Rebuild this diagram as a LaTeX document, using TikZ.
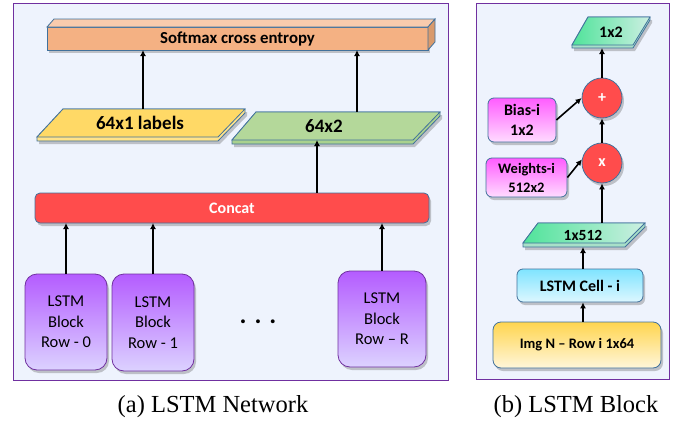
\documentclass[tikz,border=0pt]{standalone}
\usepackage{fontspec}
\setmainfont{Carlito}
\newfontfamily\capfont{Liberation Serif}
\usetikzlibrary{shadows,arrows.meta}
\definecolor{panelbg}{HTML}{EEF3FD}
\definecolor{framec}{HTML}{7030A0}
\definecolor{edgec}{HTML}{41719C}
\definecolor{smfront}{HTML}{F4B183}
\definecolor{smtop}{HTML}{F8CBAD}
\definecolor{smside}{HTML}{D99A6C}
\definecolor{yel}{HTML}{FFD966}
\definecolor{yelstrip}{HTML}{FFE38A}
\definecolor{grn}{HTML}{B4D89A}
\definecolor{grnstrip}{HTML}{A9D18E}
\definecolor{concatc}{HTML}{FF4C4C}
\definecolor{purtop}{HTML}{B45CFF}
\definecolor{purbot}{HTML}{DCD2FF}
\definecolor{magtop}{HTML}{FF5CFF}
\definecolor{magbot}{HTML}{FFDCFF}
\definecolor{cyantop}{HTML}{7FE4FF}
\definecolor{cyanbot}{HTML}{DDF7FF}
\definecolor{imgtop}{HTML}{FFD54F}
\definecolor{imgbot}{HTML}{FFF6DA}
\definecolor{mint}{HTML}{4FE39A}
\definecolor{mintlight}{HTML}{CDEFE2}
\definecolor{mintstrip}{HTML}{A8E0C8}
\tikzset{
  shade/.style={drop shadow={shadow xshift=2pt,shadow yshift=-3pt,opacity=.3,fill=black!70}},
  arr/.style={-{Latex[length=6pt,width=6pt]},line width=1.6pt,black},
  panel/.style={draw=framec,fill=panelbg,line width=1pt},
  blockbox/.style={draw=framec,line width=0.8pt,rounded corners=12pt,top color=purtop,bottom color=purbot,
    align=center,font=\fontsize{16.5}{20.5}\selectfont,shade},
  roundbox/.style={draw=edgec,line width=0.8pt,rounded corners=6pt,align=center,shade},
  opcircle/.style={circle,draw=edgec,line width=0.8pt,fill=concatc,minimum size=40pt,inner sep=0pt,
    text=white,font=\fontsize{16}{18}\selectfont\bfseries,shade},
  ghost/.style={inner sep=0pt,outer sep=0pt},
}
\begin{document}
\begin{tikzpicture}[x=1pt,y=-1pt]
\useasboundingbox[fill=white] (0,0) rectangle (683,423);
% panels
\draw[panel] (13,3) rectangle (448,380);
\draw[panel] (476,3) rectangle (669,379);

% ---------- left panel ----------
% softmax 3D bar
\node[ghost,draw=edgec,line width=0.8pt,fill=smfront,minimum width=381pt,minimum height=23pt,
  font=\fontsize{16.8}{18}\selectfont\bfseries,shade] (sm) at (237.5,38.5) {Softmax cross entropy};
\draw[draw=edgec,line width=0.8pt,fill=smtop] (sm.north west) -- ++(7,-8) -- ([shift={(7,-8)}]sm.north east) -- (sm.north east) -- cycle;
\draw[draw=edgec,line width=0.8pt,fill=smside] (sm.north east) -- ([shift={(7,-8)}]sm.north east) -- ([shift={(7,-8)}]sm.south east) -- (sm.south east) -- cycle;

% 64x1 labels
\draw[draw=edgec,line width=0.8pt,fill=yelstrip,shade] (63,109) -- (245,109) -- (245,113) -- (218,141) -- (37,141) -- (37,137) -- cycle;
\draw[draw=edgec,line width=0.8pt,fill=yel] (63,109) -- (245,109) -- (218,137) -- (37,137) -- cycle;
\node[ghost,minimum width=150pt,minimum height=28pt,font=\fontsize{19}{22}\selectfont\bfseries] (lab) at (140,123) {64x1 labels};

% 64x2
\draw[draw=edgec,line width=0.8pt,fill=grnstrip,shade] (256,112) -- (440,112) -- (440,116) -- (413,144) -- (232,144) -- (232,140) -- cycle;
\draw[draw=edgec,line width=0.8pt,fill=grn] (256,112) -- (440,112) -- (413,140) -- (232,140) -- cycle;
\node[ghost,minimum width=60pt,minimum height=28pt,font=\fontsize{19}{22}\selectfont\bfseries] (o2) at (324,126) {64x2};

% concat
\node[ghost,draw=edgec,line width=0.8pt,fill=concatc,rounded corners=5pt,minimum width=394pt,minimum height=30pt,
  text=white,font=\fontsize{16}{18}\selectfont\bfseries,shade] (cc) at (232,208) {Concat};

% LSTM blocks
\node[blockbox,minimum width=82pt,minimum height=96pt] (b0) at (66,322) {LSTM\\Block\\Row - 0};
\node[blockbox,minimum width=82pt,minimum height=97pt] (b1) at (153,322.5) {LSTM\\Block\\Row - 1};
\node[blockbox,minimum width=88pt,minimum height=96pt] (bR) at (382,319) {LSTM\\Block\\Row -- R};
\node[font=\fontsize{26}{28}\selectfont\bfseries] (dots) at (258,322) {. . .};

% arrows left
\draw[arr] (b0.north) -- (b0.north |- cc.south);
\draw[arr] (b1.north) -- (b1.north |- cc.south);
\draw[arr] (bR.north) -- (bR.north |- cc.south);
\draw[arr] ([xshift=-7pt]o2.south |- cc.north) -- ([xshift=-7pt]o2.south);
\draw[arr] ([xshift=33pt]o2.north) -- ([xshift=33pt]o2.north |- sm.south);
\draw[arr] ([xshift=3pt]lab.north) -- ([xshift=3pt]lab.north |- sm.south);

% ---------- right panel ----------
% 1x2
\draw[draw=edgec,line width=0.8pt,fill=mintstrip,shade] (588,17) -- (650,17) -- (650,20) -- (633,48) -- (572,48) -- (572,45) -- cycle;
\draw[draw=edgec,line width=0.8pt,left color=mint,right color=mintlight] (588,17) -- (650,17) -- (633,45) -- (572,45) -- cycle;
\node[ghost,minimum width=30pt,minimum height=31pt,font=\fontsize{16}{18}\selectfont\bfseries] (o12) at (611,32.5) {1x2};

\node[opcircle] (plus) at (602,98) {+};
\node[opcircle] (times) at (602,163) {x};

\node[roundbox,minimum width=68pt,minimum height=44pt,top color=magtop,bottom color=magbot,
  font=\fontsize{16}{20}\selectfont\bfseries] (bias) at (522,120) {Bias-i\\1x2};
\node[roundbox,minimum width=81pt,minimum height=39pt,top color=magtop,bottom color=magbot,
  font=\fontsize{14.5}{19}\selectfont\bfseries] (wts) at (526.5,177.5) {Weights-i\\512x2};

% 1x512
\draw[draw=edgec,line width=0.8pt,fill=mintstrip,shade] (538,223) -- (645,223) -- (645,227) -- (625,247) -- (523,247) -- (523,243) -- cycle;
\draw[draw=edgec,line width=0.8pt,left color=mint,right color=mintlight] (538,223) -- (645,223) -- (625,243) -- (523,243) -- cycle;
\node[ghost,minimum width=50pt,minimum height=24pt,font=\fontsize{15.5}{18}\selectfont\bfseries] (o512) at (583,235) {1x512};

\node[roundbox,minimum width=126pt,minimum height=33pt,top color=cyantop,bottom color=cyanbot,
  font=\fontsize{16}{18}\selectfont\bfseries] (cell) at (580,285.5) {LSTM Cell - i};
\node[roundbox,rounded corners=8pt,minimum width=168pt,minimum height=46pt,top color=imgtop,bottom color=imgbot,
  font=\fontsize{14.5}{18}\selectfont\bfseries] (img) at (577,345) {Img N -- Row i 1x64};

% arrows right
\draw[arr] (img.north -| o512.south) -- (cell.south -| o512.south);
\draw[arr] (cell.north -| o512.south) -- (o512.south);
\draw[arr] (times.south |- o512.north) -- (times.south);
\draw[arr] (times.north) -- (plus.south);
\draw[arr] (plus.north) -- (plus.north |- o12.south);
\draw[arr] (bias.east) -- (plus.west);
\draw[arr] (wts.east) -- (times.170);

% captions
\node[font=\capfont\fontsize{24.5}{27}\selectfont] (capa) at (213,407) {(a) LSTM Network};
\node[font=\capfont\fontsize{24.5}{27}\selectfont] (capb) at (576,407) {(b) LSTM Block};
\end{tikzpicture}
\end{document}
